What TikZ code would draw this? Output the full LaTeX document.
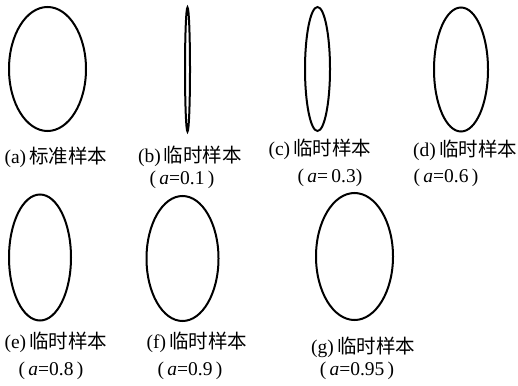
\documentclass[tikz,border=0pt]{standalone}
\usepackage{fontspec}
\setmainfont{Liberation Serif}
\newfontfamily\cjk{Noto Sans CJK SC}
\usetikzlibrary{shapes.geometric}

\begin{document}
\begin{tikzpicture}[x=1pt,y=-1pt,
    campione/.style={draw, ellipse, line width=2pt, inner sep=0pt, minimum height=124pt},
    etichetta/.style={font=\fontsize{19.5}{22}\selectfont, inner sep=0pt}]
    \useasboundingbox (0,0) rectangle (518,385);

    % Prima riga: campione standard e campioni temporanei
    \node[campione, minimum width=77pt] (a) at (47.5,69) {};
    \node[campione, minimum width=5pt] (b) at (187.5,69.5) {};
    \node[campione, minimum width=25pt] (c) at (317.5,69) {};
    \node[campione, minimum width=54pt] (d) at (461,69.5) {};

    \node[etichetta] (a1) at (56,157) {(a)\,{\cjk 标准样本}};
    \node[etichetta] (b1) at (190,156) {(b)\,{\cjk 临时样本}};
    \node[etichetta] (b2) at (182,180) {(\,\textit{a}=0.1\,)};
    \node[etichetta] (c1) at (320,149) {(c)\,{\cjk 临时样本}};
    \node[etichetta] (c2) at (330,178) {(\,\textit{a}=\,0.3)};
    \node[etichetta] (d1) at (465,150) {(d)\,{\cjk 临时样本}};
    \node[etichetta] (d2) at (446,178) {(\,\textit{a}=0.6\,)};

    % Seconda riga
    \node[campione, minimum width=62pt, minimum height=126pt] (e) at (40,257.5) {};
    \node[campione, minimum width=72pt, minimum height=125pt] (f) at (182.5,258.5) {};
    \node[campione, minimum width=77pt, minimum height=127pt] (g) at (354.5,256.5) {};

    \node[etichetta] (e1) at (56,342) {(e)\,{\cjk 临时样本}};
    \node[etichetta] (e2) at (51,371) {(\,\textit{a}=0.8\,)};
    \node[etichetta] (f1) at (197,342) {(f)\,{\cjk 临时样本}};
    \node[etichetta] (f2) at (190,371) {(\,\textit{a}=0.9\,)};
    \node[etichetta] (g1) at (363,347) {(g)\,{\cjk 临时样本}};
    \node[etichetta] (g2) at (357,371) {(\,\textit{a}=0.95\,)};

\end{tikzpicture}
\end{document}
